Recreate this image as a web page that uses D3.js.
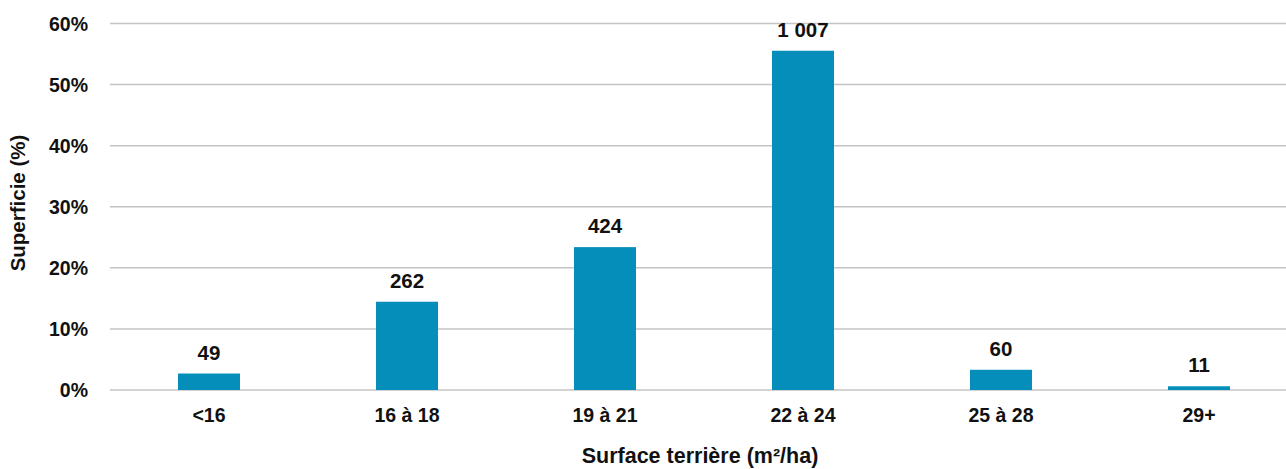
<!DOCTYPE html>
<html>
<head>
<meta charset="utf-8">
<script src="https://cdn.jsdelivr.net/npm/d3@7"></script>
<style>
  body { margin: 0; background: #fff; }
  text { font-family: "Liberation Sans", Arial, sans-serif; font-weight: bold; fill: #111; }
</style>
</head>
<body>
<svg id="chart" width="1286" height="469"></svg>
<script>
const categories = ['<16', '16 à 18', '19 à 21', '22 à 24', '25 à 28', '29+'];
const counts = [49, 262, 424, 1007, 60, 11];
const shares = [0.0270, 0.1445, 0.2339, 0.5554, 0.0331, 0.0061];
const yTicks = [0, 0.1, 0.2, 0.3, 0.4, 0.5, 0.6];

const svg = d3.select('#chart');
const margin = { left: 110, right: -12, top: 23.5, bottom: 79 };
const width = 1286 - margin.left - margin.right;
const height = 469 - margin.top - margin.bottom;

const g = svg.append('g').attr('transform', `translate(${margin.left},${margin.top})`);

const x = d3.scaleBand().domain(categories).range([0, width]).paddingInner(0.687).paddingOuter(0.3435);
const y = d3.scaleLinear().domain([0, 0.6]).range([height, 0]);

// gridlines
g.selectAll('.grid').data(yTicks).join('line')
  .attr('x1', 0).attr('x2', width)
  .attr('y1', d => y(d)).attr('y2', d => y(d))
  .attr('stroke', '#c4c4c4').attr('stroke-width', 1.5);

// y labels
g.selectAll('.ylab').data(yTicks).join('text')
  .attr('x', -22).attr('y', d => y(d)).attr('dy', '0.36em')
  .attr('text-anchor', 'end').style('font-size', '19.5px')
  .text(d => d3.format('.0%')(d));

const data = categories.map((c, i) => ({ cat: c, n: counts[i], v: shares[i] }));

g.selectAll('.bar').data(data).join('rect')
  .attr('x', d => x(d.cat)).attr('width', x.bandwidth())
  .attr('y', d => y(d.v)).attr('height', d => height - y(d.v))
  .attr('fill', '#058EB9');

g.selectAll('.val').data(data).join('text')
  .attr('x', d => x(d.cat) + x.bandwidth() / 2)
  .attr('y', d => y(d.v) - 14)
  .attr('text-anchor', 'middle').style('font-size', '20.5px')
  .text(d => d3.format(',')(d.n).replace(',', ' '));

g.selectAll('.xlab').data(categories).join('text')
  .attr('x', d => x(d) + x.bandwidth() / 2)
  .attr('y', height + 32)
  .attr('text-anchor', 'middle').style('font-size', '19.5px')
  .text(d => d);

// axis titles
svg.append('text')
  .attr('x', 700).attr('y', 463)
  .attr('text-anchor', 'middle').style('font-size', '21.5px')
  .text('Surface terrière (m²/ha)');

svg.append('text')
  .attr('transform', 'translate(25,203) rotate(-90)')
  .attr('text-anchor', 'middle').style('font-size', '20.5px')
  .text('Superficie (%)');
</script>
</body>
</html>
